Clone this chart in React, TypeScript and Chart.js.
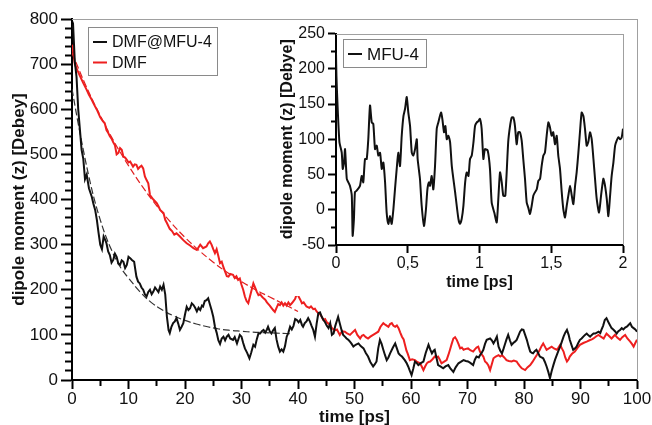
import React, { useEffect, useRef } from 'react';
import { Chart, registerables } from 'chart.js';
Chart.register(...registerables);

const FONT = "'Liberation Sans', Arial, sans-serif";

// ---- main chart data: [time ps, dipole moment Debye] ----
const dmfMfuSeries: [number, number][] = [
  [0,778],[0.2,785],[0.5,705],[0.8,672],[1.1,600],[1.4,555],[1.7,510],[2.0,490],[2.3,445],[2.6,455],[3.0,425],[3.5,406],[3.8,390],[4.1,377],[4.4,355],[4.7,326],[5.0,300],[5.3,290],[5.6,318],[5.9,310],[6.1,303],[6.4,285],[6.7,277],[7.0,260],[7.3,266],[7.6,280],[7.9,273],[8.2,258],[8.5,255],[8.8,265],[9.1,262],[9.4,248],[9.7,255],[10.0,273],[10.3,270],[10.6,266],[11.0,262],[11.2,245],[11.4,229],[11.7,218],[12.0,214],[12.3,205],[12.6,200],[12.9,190],[13.2,185],[13.5,195],[13.8,200],[14.1,190],[14.4,196],[14.7,205],[15.0,200],[15.3,195],[15.6,207],[15.9,200],[16.2,211],[16.5,190],[16.8,140],[17.1,110],[17.3,104],[17.6,118],[17.9,126],[18.2,130],[18.5,137],[18.8,125],[19.1,111],[19.4,118],[19.7,126],[20.0,145],[20.3,162],[20.6,155],[20.9,159],[21.2,170],[21.5,166],[21.8,160],[22.1,152],[22.4,160],[22.7,155],[23.0,165],[23.2,163],[23.5,175],[23.8,177],[24.1,181],[24.4,168],[24.7,155],[25.0,140],[25.3,118],[25.6,105],[25.9,88],[26.2,80],[26.5,92],[26.8,96],[27.1,88],[27.4,96],[27.7,100],[28.0,92],[28.5,89],[28.8,95],[29.2,81],[29.7,100],[30.0,96],[30.3,82],[30.6,70],[31.0,60],[31.4,48],[31.7,60],[32.1,78],[32.4,74],[32.7,90],[33.0,103],[33.3,103],[33.6,108],[33.9,111],[34.2,105],[34.5,112],[34.7,118],[35.0,108],[35.3,103],[35.6,110],[35.9,115],[36.2,90],[36.5,74],[36.8,63],[37.1,68],[37.4,63],[37.7,75],[38.0,96],[38.3,105],[38.6,118],[38.9,112],[39.2,120],[39.5,135],[39.8,133],[40.1,128],[40.4,133],[40.7,122],[40.9,118],[41.2,126],[41.5,130],[41.8,137],[42.1,130],[42.4,120],[42.7,111],[43.0,96],[43.3,125],[43.6,148],[43.9,150],[44.2,140],[44.5,133],[44.8,128],[45.1,120],[45.4,115],[45.7,126],[46.0,100],[46.3,103],[46.6,120],[47.1,140],[47.4,125],[47.7,111],[48.0,100],[48.3,96],[48.6,92],[48.9,89],[49.2,85],[49.5,80],[49.8,74],[50.2,78],[50.7,81],[51.1,75],[51.6,70],[52.0,60],[52.4,52],[52.8,40],[53.3,30],[53.6,35],[53.9,41],[54.2,70],[54.5,89],[54.8,80],[55.1,67],[55.4,55],[55.7,44],[56.0,50],[56.3,59],[56.8,72],[57.2,81],[57.5,70],[57.8,59],[58.1,55],[58.4,52],[58.9,44],[59.2,38],[59.5,30],[59.8,20],[60.1,11],[60.4,25],[60.7,41],[61.0,38],[61.3,33],[61.8,38],[62.2,41],[62.6,60],[63.1,78],[63.4,68],[63.7,59],[64.0,65],[64.2,67],[64.5,50],[64.8,33],[65.2,30],[65.7,26],[66.1,30],[66.6,33],[67.0,25],[67.5,18],[67.9,28],[68.4,37],[68.8,40],[69.3,44],[69.7,42],[70.1,41],[70.5,38],[71.0,33],[71.3,45],[71.6,52],[72.0,50],[72.2,55],[72.5,60],[72.8,67],[73.1,80],[73.4,89],[74.0,92],[74.3,88],[74.6,81],[74.9,88],[75.2,96],[75.5,74],[75.8,65],[76.1,59],[76.4,70],[76.6,78],[76.9,90],[77.2,100],[77.5,88],[77.8,78],[78.1,82],[78.4,85],[78.7,89],[79.0,98],[79.3,107],[79.6,112],[79.9,111],[80.2,100],[80.5,89],[80.8,75],[81.1,63],[81.4,60],[81.6,59],[81.9,64],[82.2,67],[82.5,60],[82.8,52],[83.1,50],[83.4,48],[83.7,40],[84.0,30],[84.3,18],[84.6,4],[84.9,20],[85.2,33],[85.5,45],[85.8,55],[86.1,65],[86.4,74],[86.7,85],[87.0,96],[87.3,105],[87.6,111],[87.9,100],[88.1,89],[88.4,78],[88.7,67],[89.0,70],[89.3,74],[89.6,82],[89.9,89],[90.2,92],[90.5,96],[90.8,100],[91.1,103],[91.4,99],[91.7,96],[92.0,100],[92.3,103],[92.6,103],[92.9,105],[93.2,107],[93.5,104],[93.7,111],[94.0,120],[94.3,133],[94.6,137],[94.9,129],[95.2,122],[95.5,115],[95.8,112],[96.1,108],[96.4,103],[96.7,108],[97.0,111],[97.3,115],[97.6,112],[97.9,116],[98.2,118],[98.5,122],[98.8,126],[99.1,118],[99.4,115],[99.7,112],[100,107]
];

const dmfSeries: [number, number][] = [
  [0,743],[0.3,720],[0.5,700],[1.0,685],[1.4,674],[2.0,658],[2.6,643],[3.0,632],[3.5,621],[3.8,613],[4.4,599],[5.0,582],[5.4,575],[5.8,569],[6.1,554],[6.4,548],[6.7,540],[7.0,535],[7.3,527],[7.6,520],[7.9,500],[8.2,503],[8.5,514],[8.8,510],[9.1,495],[9.4,493],[9.7,488],[10.0,482],[10.3,484],[10.8,473],[11.1,478],[11.4,477],[11.7,468],[12.0,472],[12.3,475],[12.6,469],[12.9,451],[13.2,443],[13.5,436],[13.8,410],[14.1,405],[14.4,400],[15.0,392],[15.3,385],[15.6,377],[16.2,370],[16.5,355],[16.8,348],[17.3,335],[17.7,330],[18.1,322],[18.5,325],[19.1,318],[19.7,310],[20.3,303],[20.9,298],[21.5,292],[22.1,288],[22.7,300],[23.2,292],[23.8,296],[24.1,303],[24.4,307],[24.7,300],[25.0,290],[25.3,281],[25.6,290],[25.9,275],[26.2,259],[26.5,262],[26.8,250],[27.1,240],[27.4,230],[27.7,229],[28.0,235],[28.5,233],[28.8,226],[29.1,230],[29.4,222],[29.7,225],[30.0,211],[30.3,200],[30.6,185],[30.9,175],[31.2,170],[31.5,185],[31.8,200],[32.1,214],[32.4,205],[32.7,196],[33.0,188],[33.3,190],[33.6,185],[33.9,181],[34.2,178],[34.5,172],[35.0,165],[35.3,160],[35.6,155],[35.9,151],[36.2,160],[36.5,168],[36.8,166],[37.1,172],[37.4,165],[37.7,170],[38.0,165],[38.3,172],[38.6,166],[38.9,170],[39.2,175],[39.5,180],[39.8,192],[40.1,185],[40.4,178],[40.7,170],[41.0,172],[41.5,163],[42.0,160],[42.3,163],[42.7,157],[43.0,158],[43.3,152],[43.6,148],[43.9,146],[44.2,140],[44.5,133],[44.8,135],[45.1,128],[45.4,125],[45.7,122],[46.0,115],[46.5,110],[46.9,112],[47.4,100],[47.8,108],[48.3,107],[48.7,103],[49.2,100],[49.6,105],[50.1,111],[50.5,100],[51.0,92],[51.3,98],[51.6,100],[52.0,95],[52.4,92],[52.8,96],[53.3,100],[53.8,104],[54.2,107],[54.6,118],[55.1,126],[55.5,122],[56.0,118],[56.3,124],[56.6,126],[56.9,120],[57.2,118],[57.5,121],[57.8,115],[58.1,105],[58.4,96],[58.7,90],[58.9,80],[59.2,65],[59.4,59],[59.8,44],[60.2,46],[60.7,44],[61.1,40],[61.6,37],[61.9,30],[62.2,22],[62.5,30],[62.8,37],[63.1,40],[63.4,41],[63.8,46],[64.2,52],[64.5,50],[64.8,52],[65.1,45],[65.4,37],[65.8,40],[66.3,44],[66.6,55],[66.9,67],[67.2,80],[67.5,92],[67.8,95],[68.1,89],[68.4,80],[68.7,70],[69.0,72],[69.3,67],[69.7,69],[70.1,70],[70.5,66],[71.0,63],[71.3,68],[71.6,72],[71.9,74],[72.2,63],[72.5,57],[72.8,52],[73.1,41],[73.4,38],[73.7,32],[74.0,22],[74.3,35],[74.6,48],[75.0,52],[75.5,55],[75.8,52],[76.1,55],[76.5,50],[76.9,44],[77.3,42],[77.8,41],[78.2,43],[78.7,41],[79.0,35],[79.3,30],[79.6,26],[80.2,22],[80.6,28],[81.1,33],[81.5,40],[81.9,48],[82.3,56],[82.8,67],[83.1,75],[83.4,81],[83.7,74],[84.0,67],[84.4,70],[84.9,74],[85.3,70],[85.8,67],[86.1,72],[86.4,78],[86.7,70],[87.0,63],[87.3,50],[87.6,41],[87.9,46],[88.1,52],[88.5,58],[89.0,63],[89.4,70],[89.9,78],[90.5,82],[91.1,85],[91.6,88],[92.0,90],[92.3,92],[92.8,97],[93.2,100],[93.6,96],[94.1,92],[94.6,103],[95.0,98],[95.5,92],[96.1,100],[96.5,94],[97.0,89],[97.4,95],[97.9,100],[98.3,92],[98.8,85],[99.1,80],[99.4,74],[99.7,82],[100,89]
];

const dmfMfuFit: [number, number][] = [
  [0,645],[1,575],[2,510],[3,450],[4,398],[5,355],[6,318],[7,288],[8,262],[9,242],[10,226],[12,196],[14,172],[16,155],[18,142],[20,132],[22,124],[24,118],[26,113],[28,110],[30,108],[32,106],[34,105],[36,104],[38,103],[39,103]
];

const dmfFit: [number, number][] = [
  [0,725],[2.5,651],[5,586],[7.5,527],[10,475],[12.5,428],[15,386],[17.5,349],[20,316],[22.5,287],[25,261],[27.5,238],[30,218],[32.5,200],[35,184],[37.5,168],[40,152]
];

// ---- inset data ----
const mfuTime: number[] = [0,0.003,0.01,0.024,0.04,0.047,0.056,0.063,0.075,0.086,0.097,0.11,0.116,0.125,0.132,0.144,0.167,0.179,0.19,0.202,0.214,0.225,0.237,0.249,0.26,0.272,0.284,0.295,0.307,0.319,0.33,0.342,0.353,0.365,0.376,0.388,0.4,0.411,0.423,0.434,0.446,0.458,0.47,0.481,0.493,0.504,0.516,0.528,0.539,0.551,0.563,0.569,0.585,0.597,0.613,0.627,0.637,0.648,0.655,0.667,0.678,0.69,0.702,0.713,0.732,0.741,0.753,0.762,0.772,0.783,0.795,0.807,0.83,0.853,0.864,0.876,0.888,0.9,0.911,0.923,0.934,0.946,0.958,0.969,0.981,0.993,1.003,1.015,1.027,1.038,1.057,1.073,1.085,1.103,1.12,1.131,1.143,1.155,1.166,1.18,1.2,1.213,1.225,1.236,1.247,1.259,1.27,1.282,1.294,1.305,1.317,1.329,1.34,1.352,1.364,1.375,1.387,1.399,1.41,1.422,1.433,1.445,1.456,1.468,1.48,1.491,1.503,1.514,1.526,1.538,1.549,1.561,1.573,1.584,1.596,1.608,1.619,1.631,1.643,1.654,1.666,1.677,1.689,1.7,1.712,1.724,1.735,1.747,1.758,1.77,1.782,1.794,1.805,1.817,1.833,1.847,1.863,1.875,1.887,1.898,1.91,1.921,1.933,1.945,1.956,1.968,1.98,1.991,2.0];
const mfuDipole: number[] = [223,190,152,96,81,58,67,86,44,39,34,20,-37,-13,25,27,34,48,39,72,72,100,148,124,122,86,91,77,81,58,67,39,-4,-20,-9,-20,1,29,58,81,62,105,133,143,160,138,119,81,77,86,100,72,44,6,-23,1,29,39,34,48,29,62,115,124,138,129,110,119,100,105,96,62,25,-13,-20,-13,6,39,53,48,72,77,96,119,124,126,129,115,72,86,84,58,10,-4,-18,15,53,39,20,20,96,119,131,131,119,93,110,110,98,72,44,10,3,-6,6,20,25,29,41,44,62,77,81,105,124,117,105,110,93,105,77,58,25,1,-11,6,20,34,20,8,34,53,81,110,138,133,115,91,96,110,100,72,44,15,-4,20,44,34,15,-9,20,48,67,91,98,103,100,103,115];

// ---- labels ----
const mainXTitle = 'time [ps]';
const mainYTitle = 'dipole moment (z) [Debey]';
const insetXTitle = 'time [ps]';
const insetYTitle = 'dipole moment (z) [Debye]';

const toXY = (arr: [number, number][]) => arr.map(([x, y]) => ({ x, y }));

const isMultiple = (v: number, step: number) => {
  const r = v / step;
  return Math.abs(r - Math.round(r)) < 1e-6;
};

function makeFrame(id: string, frameColor: string) {
  return {
    id,
    afterDraw(chart: any) {
      const ctx: CanvasRenderingContext2D = chart.ctx;
      const area = chart.chartArea;
      const left = Math.round(area.left);
      const right = Math.round(area.right);
      const top = Math.round(area.top);
      const bottom = Math.round(area.bottom);
      ctx.save();
      ctx.fillStyle = frameColor;
      ctx.fillRect(left, top, right - left + 1, 1);
      ctx.fillRect(right, top, 1, bottom - top);
      ctx.restore();
    },
  };
}

type LegendCfg = { dx: number; dy: number; w: number; h: number; size: number; firstY: number; rowH: number; lineX0: number; lineX1: number; textX: number; items: number[] };

function makeBoxLegend(id: string, o: LegendCfg) {
  return {
    id,
    afterDraw(chart: any) {
      const ctx: CanvasRenderingContext2D = chart.ctx;
      const area = chart.chartArea;
      const x = Math.round(area.left + o.dx);
      const y = Math.round(area.top + o.dy);
      ctx.save();
      ctx.setLineDash([]);
      ctx.fillStyle = '#fff';
      ctx.fillRect(x, y, o.w, o.h);
      ctx.strokeStyle = '#8a8a8a';
      ctx.lineWidth = 1;
      ctx.strokeRect(x + 0.5, y + 0.5, o.w, o.h);
      ctx.font = `${o.size}px ${FONT}`;
      ctx.textBaseline = 'middle';
      ctx.textAlign = 'left';
      o.items.forEach((di, k) => {
        const ds = chart.data.datasets[di];
        const cy = y + o.firstY + k * o.rowH;
        ctx.fillStyle = ds.borderColor;
        ctx.fillRect(x + o.lineX0, cy - 1, o.lineX1 - o.lineX0, 2);
        ctx.fillStyle = '#111';
        ctx.fillText(ds.label, x + o.textX, cy + 1);
      });
      ctx.restore();
    },
  };
}

// tick marks drawn by Chart.js itself; minor ticks shortened with a dash pattern
const tickGrid = (tickLength: number, major: number, minorLen: number, startsAtAxis: boolean) => ({
  display: true,
  drawOnChartArea: false,
  drawTicks: true,
  tickLength,
  tickColor: '#000',
  tickWidth: 2,
  tickBorderDash: (c: any) => {
    const v = c.tick ? c.tick.value : 0;
    if (isMultiple(v, major)) return [];
    return startsAtAxis ? [minorLen, 200] : [0, tickLength - 1 - minorLen, minorLen, 200];
  },
});

export default function App() {
  const mainRef = useRef<HTMLCanvasElement>(null);
  const insetRef = useRef<HTMLCanvasElement>(null);

  useEffect(() => {
    document.body.style.margin = '0';
    Chart.defaults.font.family = FONT;
    Chart.defaults.color = '#111';

    const main = new Chart(mainRef.current as HTMLCanvasElement, {
      type: 'line',
      data: {
        datasets: [
          { label: 'DMF@MFU-4', data: toXY(dmfMfuSeries), borderColor: '#111111', borderWidth: 2, pointRadius: 0, tension: 0 },
          { label: 'DMF', data: toXY(dmfSeries), borderColor: '#ee1f1f', borderWidth: 2, pointRadius: 0, tension: 0 },
          { label: 'DMF@MFU-4 fit', data: toXY(dmfMfuFit), borderColor: '#333333', borderWidth: 1.2, borderDash: [7, 3], pointRadius: 0, tension: 0.4 },
          { label: 'DMF fit', data: toXY(dmfFit), borderColor: '#e02020', borderWidth: 1.2, borderDash: [7, 3], pointRadius: 0, tension: 0.4 },
        ],
      } as any,
      options: {
        responsive: false,
        animation: false,
        layout: { padding: { top: 19, right: 15, left: 0, bottom: 0 } },
        plugins: { legend: { display: false }, tooltip: { enabled: false } },
        scales: {
          x: {
            type: 'linear', min: 0, max: 100,
            ticks: { stepSize: 5, padding: 0, font: { size: 17 }, color: '#111', maxRotation: 0, autoSkip: false,
              callback: (v: any) => (isMultiple(v, 10) ? String(v) : '') },
            grid: tickGrid(9, 10, 5, true),
            border: { display: true, color: '#000', width: 2 },
            title: { display: true, text: mainXTitle, font: { size: 17, weight: 'bold', lineHeight: 1 }, padding: { top: 0, bottom: -0.5 }, color: '#111' },
            afterFit: (s: any) => { s.height = 45; },
          },
          y: {
            type: 'linear', min: 0, max: 800,
            ticks: { stepSize: 20, padding: 3, font: { size: 17 }, color: '#111', autoSkip: false,
              callback: (v: any) => (isMultiple(v, 100) ? String(v) : '') },
            grid: tickGrid(11, 100, 6, false),
            border: { display: true, color: '#000', width: 2 },
            title: { display: true, text: mainYTitle, font: { size: 17, weight: 'bold' }, padding: { top: 9, bottom: 0 }, color: '#111' },
            afterFit: (s: any) => { s.width = 72; },
          },
        } as any,
      },
      plugins: [
        makeFrame('mainFrame', '#a0a0a0'),
        makeBoxLegend('mainLegend', { dx: 16, dy: 8, w: 129, h: 48, size: 16, firstY: 15, rowH: 20.5, lineX0: 5, lineX1: 19, textX: 24, items: [0, 1] }),
      ],
    });

    const inset = new Chart(insetRef.current as HTMLCanvasElement, {
      type: 'line',
      data: {
        datasets: [
          { label: 'MFU-4', data: mfuTime.map((t, i) => ({ x: t, y: mfuDipole[i] })), borderColor: '#111111', borderWidth: 2, pointRadius: 0, tension: 0.2 },
        ],
      } as any,
      options: {
        responsive: false,
        animation: false,
        layout: { padding: { top: 12, right: 12, left: 0, bottom: 0 } },
        plugins: { legend: { display: false }, tooltip: { enabled: false } },
        scales: {
          x: {
            type: 'linear', min: 0, max: 2,
            ticks: { stepSize: 0.5, padding: 1.4, font: { size: 16 }, color: '#111', maxRotation: 0, autoSkip: false,
              callback: (v: any) => String(v).replace('.', ',') },
            grid: tickGrid(8, 0.5, 0, true),
            border: { display: true, color: '#000', width: 2 },
            title: { display: true, text: insetXTitle, font: { size: 16, weight: 'bold' }, padding: { top: 0, bottom: 3.5 }, color: '#111' },
            afterFit: (s: any) => { s.height = 51; },
          },
          y: {
            type: 'linear', min: -50, max: 250,
            ticks: { stepSize: 25, padding: 3, font: { size: 16 }, color: '#111', autoSkip: false,
              callback: (v: any) => (isMultiple(v, 50) ? String(v) : '') },
            grid: tickGrid(8, 50, 4, false),
            border: { display: true, color: '#000', width: 2 },
            title: { display: true, text: insetYTitle, font: { size: 16, weight: 'bold' }, padding: { top: 1.5, bottom: 0 }, color: '#111' },
            afterFit: (s: any) => { s.width = 60; },
          },
        } as any,
      },
      plugins: [
        makeFrame('insetFrame', '#a0a0a0'),
        makeBoxLegend('insetLegend', { dx: 7, dy: 5, w: 83, h: 28, size: 17, firstY: 15, rowH: 20, lineX0: 5, lineX1: 19, textX: 24, items: [0] }),
      ],
    });

    return () => { main.destroy(); inset.destroy(); };
  }, []);

  return (
    <div style={{ position: 'relative', width: 652, height: 425, background: '#fff', overflow: 'hidden' }}>
      <canvas ref={mainRef} width={652} height={425} style={{ position: 'absolute', left: 0, top: 0 }} />
      <canvas ref={insetRef} width={359} height={275} style={{ position: 'absolute', left: 276, top: 21, background: '#fff' }} />
    </div>
  );
}
